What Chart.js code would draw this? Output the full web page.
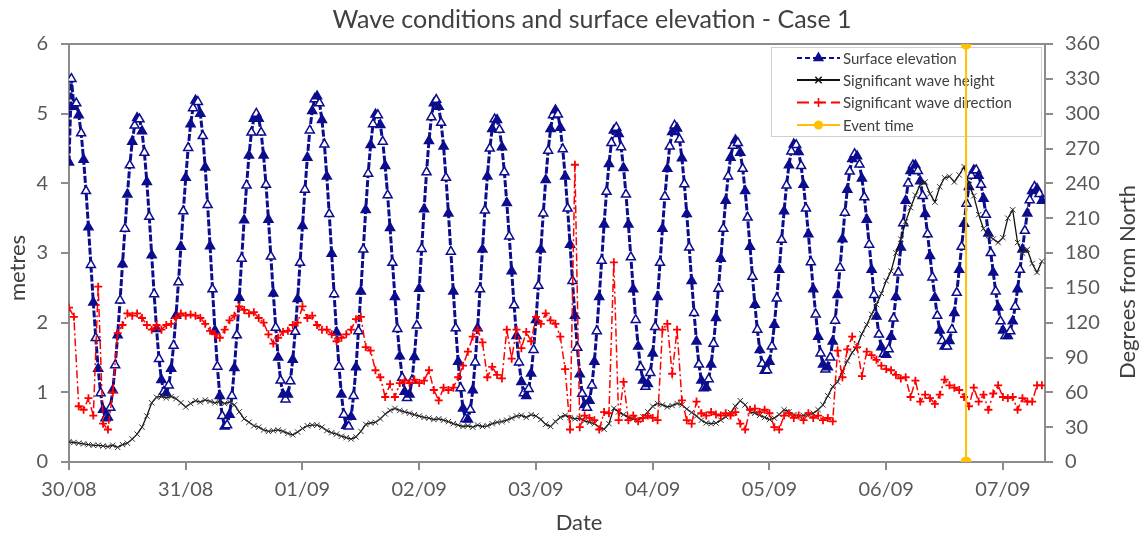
<!DOCTYPE html>
<html>
<head>
<meta charset="utf-8">
<title>Wave conditions and surface elevation - Case 1</title>
<script src="https://cdn.jsdelivr.net/npm/chart.js@4.4.1/dist/chart.umd.min.js"></script>
<style>
  html, body { margin: 0; padding: 0; background: #ffffff; }
  #chart { display: block; }
</style>
</head>
<body>
<canvas id="chart" width="1143" height="536"></canvas>
<script>
// x axis: days after 30/08 00:00, one label per day
const dayLabels = ['30/08', '31/08', '01/09', '02/09', '03/09', '04/09', '05/09', '06/09', '07/09'];
const xMaxDay = 8.36;

// Surface elevation (m), read every 30 minutes from 30/08 00:00
const elevStepHours = 0.5;
const surfaceElevation = [
  4.3, 5.5, 5.1, 5.15,
  4.98, 4.72, 4.34, 3.89, 3.37, 2.83, 2.29, 1.78, 1.34, 0.99, 0.75, 0.63,
  0.64, 0.78, 1.03, 1.39, 1.82, 2.32, 2.84, 3.35, 3.84, 4.26, 4.60, 4.83, 4.94,
  4.92, 4.75, 4.44, 4.02, 3.52, 2.97, 2.41, 1.91, 1.48, 1.18, 1.01,
  0.99, 1.10, 1.34, 1.67, 2.10, 2.58, 3.09, 3.60, 4.08, 4.51, 4.85, 5.08, 5.19,
  5.17, 5.00, 4.68, 4.23, 3.69, 3.10, 2.48, 1.89, 1.37, 0.95, 0.66, 0.51,
  0.53, 0.68, 0.95, 1.35, 1.82, 2.36, 2.92, 3.47, 3.97, 4.40, 4.73, 4.93, 5.00,
  4.93, 4.73, 4.40, 3.98, 3.48, 2.95, 2.42, 1.93, 1.50, 1.17, 0.97, 0.90,
  0.97, 1.16, 1.47, 1.87, 2.34, 2.86, 3.39, 3.91, 4.37, 4.76, 5.04, 5.21,
  5.25, 5.15, 4.91, 4.56, 4.10, 3.56, 2.99, 2.41, 1.86, 1.37, 0.97, 0.68, 0.52,
  0.51, 0.65, 0.95, 1.36, 1.88, 2.45, 3.05, 3.62, 4.14, 4.55, 4.85, 4.99,
  4.98, 4.84, 4.60, 4.25, 3.83, 3.36, 2.86, 2.37, 1.91, 1.52, 1.21, 1.01, 0.92,
  0.97, 1.17, 1.51, 1.96, 2.49, 3.06, 3.63, 4.16, 4.61, 4.95, 5.15,
  5.20, 5.10, 4.87, 4.53, 4.08, 3.57, 3.02, 2.45, 1.92, 1.44, 1.06, 0.77, 0.62,
  0.61, 0.75, 1.03, 1.43, 1.92, 2.48, 3.05, 3.61, 4.10, 4.50, 4.78, 4.92,
  4.91, 4.77, 4.52, 4.16, 3.72, 3.24, 2.74, 2.25, 1.81, 1.43, 1.15, 0.99,
  0.95, 1.05, 1.27, 1.61, 2.04, 2.53, 3.05, 3.57, 4.05, 4.47, 4.78, 4.98, 5.05,
  4.99, 4.80, 4.49, 4.10, 3.64, 3.12, 2.60, 2.10, 1.64, 1.26, 0.98, 0.82,
  0.78, 0.88, 1.10, 1.44, 1.88, 2.37, 2.89, 3.41, 3.88, 4.28, 4.58, 4.76,
  4.80, 4.71, 4.52, 4.22, 3.84, 3.41, 2.94, 2.48, 2.04, 1.66, 1.36, 1.17, 1.08,
  1.12, 1.28, 1.56, 1.94, 2.37, 2.86, 3.35, 3.81, 4.21, 4.53, 4.74, 4.83,
  4.79, 4.63, 4.36, 3.99, 3.56, 3.08, 2.60, 2.14, 1.73, 1.40, 1.17, 1.06,
  1.07, 1.19, 1.40, 1.70, 2.07, 2.49, 2.92, 3.35, 3.75, 4.10, 4.37, 4.54, 4.62,
  4.58, 4.44, 4.21, 3.89, 3.51, 3.09, 2.66, 2.26, 1.90, 1.61, 1.41, 1.31,
  1.32, 1.44, 1.66, 1.97, 2.35, 2.76, 3.19, 3.60, 3.97, 4.26, 4.46, 4.56,
  4.55, 4.45, 4.25, 3.98, 3.64, 3.27, 2.87, 2.48, 2.12, 1.80, 1.56, 1.40, 1.33,
  1.36, 1.50, 1.73, 2.03, 2.40, 2.79, 3.20, 3.58, 3.91, 4.17, 4.35, 4.42,
  4.39, 4.27, 4.07, 3.80, 3.48, 3.12, 2.76, 2.40, 2.09, 1.83, 1.65, 1.55,
  1.54, 1.62, 1.80, 2.06, 2.37, 2.72, 3.08, 3.43, 3.75, 4.00, 4.18, 4.26,
  4.26, 4.18, 4.03, 3.82, 3.56, 3.27, 2.96, 2.65, 2.36, 2.10, 1.89, 1.74, 1.66,
  1.66, 1.74, 1.90, 2.14, 2.43, 2.76, 3.09, 3.42, 3.71, 3.95, 4.11, 4.19,
  4.19, 4.11, 3.98, 3.78, 3.55, 3.28, 3.00, 2.72, 2.45, 2.22, 2.02, 1.89, 1.81,
  1.81, 1.88, 2.02, 2.23, 2.48, 2.76, 3.05, 3.32, 3.57, 3.76, 3.89, 3.95,
  3.92, 3.85, 3.75
];

// Significant wave height (m) and direction (deg from North), hourly from 30/08 00:00
const waveStepHours = 1;
const waveHeight = [
  0.29, 0.28, 0.27, 0.26, 0.25, 0.24, 0.24, 0.23, 0.22, 0.24,
  0.21, 0.25, 0.27, 0.33, 0.40, 0.50, 0.66, 0.85, 0.93, 0.94,
  0.92, 0.94, 0.91, 0.85, 0.79, 0.84, 0.88, 0.86, 0.89, 0.87,
  0.85, 0.87, 0.84, 0.86, 0.82, 0.72, 0.62, 0.57, 0.52, 0.50,
  0.46, 0.44, 0.45, 0.46, 0.44, 0.41, 0.39, 0.43, 0.48, 0.52,
  0.53, 0.53, 0.50, 0.45, 0.42, 0.40, 0.37, 0.35, 0.33, 0.36,
  0.44, 0.54, 0.56, 0.57, 0.62, 0.69, 0.74, 0.77, 0.74, 0.72,
  0.70, 0.68, 0.66, 0.64, 0.63, 0.61, 0.62, 0.60, 0.58, 0.55,
  0.53, 0.51, 0.52, 0.50, 0.53, 0.51, 0.52, 0.55, 0.57, 0.58,
  0.60, 0.63, 0.66, 0.67, 0.64, 0.68, 0.66, 0.61, 0.54, 0.51,
  0.58, 0.64, 0.67, 0.64, 0.62, 0.63, 0.59, 0.57, 0.55, 0.50,
  0.47, 0.55, 0.77, 0.72, 0.68, 0.64, 0.62, 0.60, 0.65, 0.72,
  0.80, 0.84, 0.82, 0.79, 0.81, 0.84, 0.82, 0.76, 0.71, 0.66,
  0.60, 0.56, 0.55, 0.56, 0.60, 0.65, 0.71, 0.80, 0.88, 0.82,
  0.72, 0.70, 0.67, 0.64, 0.61, 0.63, 0.68, 0.75, 0.72, 0.68,
  0.66, 0.67, 0.68, 0.70, 0.75, 0.82, 0.95, 1.08, 1.15, 1.30,
  1.45, 1.57, 1.66, 1.84, 1.97, 2.12, 2.26, 2.42, 2.60, 2.74,
  3.00, 3.20, 3.45, 3.65, 3.83, 3.98, 4.02, 3.85, 3.73, 3.95,
  4.08, 4.10, 4.02, 4.12, 4.24, 3.98, 3.82, 3.55, 3.35, 3.25,
  3.20, 3.15, 3.22, 3.50, 3.62, 3.15, 3.00, 3.05, 2.85, 2.72,
  2.88
];
const waveDirection = [
  133, 125, 48, 45, 55, 40, 151, 33, 28, 60,
  111, 118, 128, 126, 128, 124, 118, 114, 118, 114,
  118, 119, 124, 128, 126, 127, 126, 124, 119, 113,
  110, 107, 114, 122, 126, 134, 131, 128, 129, 124,
  120, 110, 102, 107, 112, 113, 118, 120, 134, 124,
  126, 118, 114, 114, 110, 104, 107, 110, 114, 123,
  125, 99, 96, 79, 73, 56, 67, 56, 68, 70,
  68, 71, 68, 70, 79, 62, 53, 64, 62, 64,
  73, 83, 95, 108, 114, 103, 73, 82, 75, 72,
  114, 89, 114, 98, 112, 104, 125, 119, 128, 122,
  119, 108, 80, 28, 256, 30, 40, 38, 36, 28,
  43, 42, 172, 36, 69, 36, 40, 35, 38, 40,
  38, 36, 114, 119, 76, 114, 53, 36, 33, 52,
  42, 40, 43, 41, 40, 42, 40, 43, 33, 28,
  45, 46, 43, 45, 42, 30, 28, 40, 42, 38,
  40, 36, 42, 38, 40, 36, 38, 35, 96, 73,
  97, 108, 99, 74, 95, 92, 88, 83, 80, 79,
  75, 72, 73, 56, 70, 52, 58, 55, 50, 58,
  71, 66, 64, 62, 56, 48, 64, 52, 58, 45,
  59, 66, 56, 55, 56, 45, 55, 52, 52, 66,
  66
];

// Event time: 06/09 about 16:25, drawn across the full degree axis
const eventDay = 7.684;
const eventRange = [0, 360];

const NAVY = '#0c0c8e';
const RED = '#ff0000';
const BLACK = '#111111';
const ORANGE = '#ffc000';
const AXIS_GREY = '#8c8c8c';
const TICK_GREY = '#595959';
const TEXT_GREY = '#404040';
const FONT = 'Lato, "Open Sans", "DejaVu Sans", sans-serif';

Chart.defaults.font.family = FONT;

function toPoints(values, stepHours) {
  return values.map((v, i) => ({ x: i * stepHours / 24, y: v }));
}

// small marker shapes for the hand-placed legend
function drawMarker(ctx, style, x, y, r, stroke, fill) {
  ctx.save();
  ctx.strokeStyle = stroke;
  ctx.fillStyle = fill || stroke;
  ctx.lineWidth = 1.5;
  ctx.setLineDash([]);
  ctx.beginPath();
  if (style === 'triangle') {
    ctx.moveTo(x, y - r);
    ctx.lineTo(x + r * 0.866, y + r * 0.5);
    ctx.lineTo(x - r * 0.866, y + r * 0.5);
    ctx.closePath();
    ctx.fill();
    ctx.stroke();
  } else if (style === 'crossRot') {
    const d = r * 0.707;
    ctx.moveTo(x - d, y - d); ctx.lineTo(x + d, y + d);
    ctx.moveTo(x + d, y - d); ctx.lineTo(x - d, y + d);
    ctx.stroke();
  } else if (style === 'cross') {
    ctx.moveTo(x - r, y); ctx.lineTo(x + r, y);
    ctx.moveTo(x, y - r); ctx.lineTo(x, y + r);
    ctx.stroke();
  } else {
    ctx.arc(x, y, r, 0, Math.PI * 2);
    ctx.fill();
  }
  ctx.restore();
}

const legendItems = [
  { text: 'Surface elevation', color: NAVY, dash: [5, 3], marker: 'triangle', r: 5 },
  { text: 'Significant wave height', color: BLACK, dash: [], marker: 'crossRot', r: 4.5 },
  { text: 'Significant wave direction', color: RED, dash: [12, 5], marker: 'cross', r: 4.5 },
  { text: 'Event time', color: ORANGE, dash: [], marker: 'circle', r: 4.5 }
];

const decorations = {
  id: 'decorations',
  beforeDatasetsDraw(chart) {
    const { ctx, chartArea: a } = chart;
    ctx.save();
    // top edge of the plot frame
    ctx.strokeStyle = AXIS_GREY;
    ctx.lineWidth = 2;
    ctx.beginPath();
    ctx.moveTo(a.left, a.top);
    ctx.lineTo(a.right, a.top);
    ctx.stroke();

    // legend box
    ctx.fillStyle = '#ffffff';
    ctx.strokeStyle = '#d0d0d0';
    ctx.lineWidth = 1;
    ctx.fillRect(771, 47, 271, 90);
    ctx.strokeRect(771.5, 47.5, 270, 89);
    const rows = [58, 80, 102.5, 125];
    ctx.font = '15px ' + FONT;
    ctx.textBaseline = 'middle';
    ctx.textAlign = 'left';
    legendItems.forEach((item, i) => {
      const y = rows[i];
      ctx.strokeStyle = item.color;
      ctx.lineWidth = 2;
      ctx.setLineDash(item.dash);
      ctx.beginPath();
      ctx.moveTo(797, y);
      ctx.lineTo(840, y);
      ctx.stroke();
      ctx.setLineDash([]);
      drawMarker(ctx, item.marker, 818.5, y, item.r, item.color);
      ctx.fillStyle = TEXT_GREY;
      ctx.fillText(item.text, 843, y + 1);
    });
    ctx.restore();
  },
  afterDraw(chart) {
    const { ctx } = chart;
    ctx.save();
    ctx.fillStyle = TEXT_GREY;
    ctx.textAlign = 'center';
    ctx.textBaseline = 'middle';
    ctx.font = '25px ' + FONT;
    ctx.fillText('Wave conditions and surface elevation - Case 1', 592, 20);

    ctx.font = '22px ' + FONT;
    ctx.fillText('Date', 579, 523);

    ctx.translate(18, 268);
    ctx.rotate(-Math.PI / 2);
    ctx.fillText('metres', 0, 0);
    ctx.restore();

    ctx.save();
    ctx.fillStyle = TEXT_GREY;
    ctx.textAlign = 'center';
    ctx.textBaseline = 'middle';
    ctx.font = '22px ' + FONT;
    ctx.translate(1128, 282);
    ctx.rotate(-Math.PI / 2);
    ctx.fillText('Degrees from North', 0, 0);
    ctx.restore();
  }
};

const axisTicks = { color: TICK_GREY, font: { size: 20 } };

const chart = new Chart(document.getElementById('chart'), {
  type: 'line',
  data: {
    datasets: [
      {
        label: 'Event time',
        data: eventRange.map(v => ({ x: eventDay, y: v })),
        yAxisID: 'y2',
        borderColor: ORANGE,
        backgroundColor: ORANGE,
        borderWidth: 2,
        pointStyle: 'circle',
        pointRadius: 4.5,
        pointBackgroundColor: ORANGE,
        pointBorderColor: ORANGE,
        order: 0
      },
      {
        label: 'Significant wave direction',
        data: toPoints(waveDirection, waveStepHours),
        yAxisID: 'y2',
        borderColor: RED,
        borderWidth: 1.5,
        borderDash: [8, 3, 2, 3],
        pointStyle: 'cross',
        pointRadius: 4,
        pointBorderWidth: 1.8,
        pointBorderColor: RED,
        order: 1
      },
      {
        label: 'Significant wave height',
        data: toPoints(waveHeight, waveStepHours),
        yAxisID: 'y',
        borderColor: BLACK,
        borderWidth: 1.3,
        pointStyle: 'crossRot',
        pointRadius: 3.8,
        pointBorderWidth: 1,
        pointBorderColor: '#333333',
        order: 2
      },
      {
        label: 'Surface elevation',
        data: toPoints(surfaceElevation, elevStepHours),
        yAxisID: 'y',
        borderColor: NAVY,
        borderWidth: 3,
        borderDash: [7, 2],
        pointStyle: 'triangle',
        pointRadius: 5.2,
        pointBorderWidth: 1.5,
        pointBorderColor: NAVY,
        pointBackgroundColor: c => (c.dataIndex % 2 ? '#ffffff' : NAVY),
        order: 3
      }
    ]
  },
  options: {
    responsive: false,
    animation: false,
    devicePixelRatio: 1,
    layout: { padding: { top: 44, left: 0, right: 0, bottom: 0 } },
    plugins: {
      legend: { display: false },
      title: { display: false },
      tooltip: { enabled: false }
    },
    scales: {
      x: {
        type: 'linear',
        min: 0,
        max: xMaxDay,
        afterFit: s => { s.height = 74; },
        ticks: {
          ...axisTicks,
          stepSize: 1,
          includeBounds: false,
          autoSkip: false,
          maxRotation: 0,
          padding: 8,
          callback: v => dayLabels[Math.round(v)] || ''
        },
        grid: { drawOnChartArea: false, drawTicks: true, tickLength: 8, color: AXIS_GREY, lineWidth: 2 },
        border: { color: AXIS_GREY, width: 2 }
      },
      y: {
        position: 'left',
        min: 0,
        max: 6,
        afterFit: s => { s.width = 69; },
        ticks: { ...axisTicks, stepSize: 1, padding: 13 },
        grid: { drawOnChartArea: false, drawTicks: true, tickLength: 8, color: AXIS_GREY, lineWidth: 2 },
        border: { color: AXIS_GREY, width: 2 }
      },
      y2: {
        position: 'right',
        min: 0,
        max: 360,
        afterFit: s => { s.width = 98; },
        ticks: { ...axisTicks, stepSize: 30, padding: 12 },
        grid: { drawOnChartArea: false, drawTicks: true, tickLength: 8, color: AXIS_GREY, lineWidth: 2 },
        border: { color: AXIS_GREY, width: 2 }
      }
    }
  },
  plugins: [decorations]
});
</script>
</body>
</html>
